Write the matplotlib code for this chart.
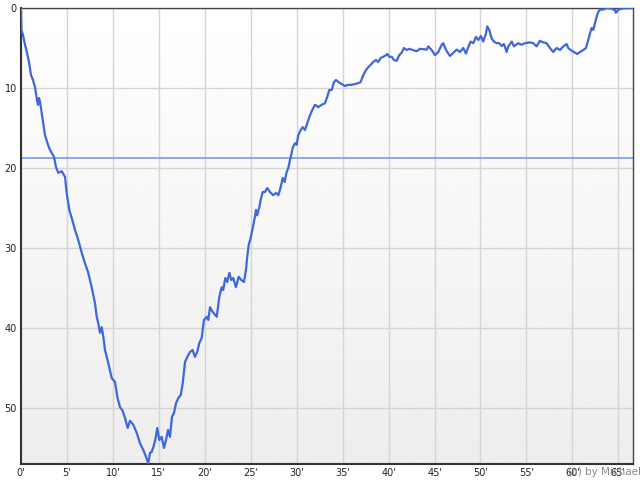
import numpy as np
import matplotlib
matplotlib.use("Agg")
import matplotlib.pyplot as plt

# time in minutes
minutes = [0.00, 0.05, 0.22, 0.44, 0.65, 0.87, 1.09, 1.31, 1.52, 1.74, 1.85, 1.96, 2.07, 2.29, 2.61,
           2.94, 3.16, 3.59, 3.81, 4.06, 4.43, 4.79, 4.97, 5.26, 5.58, 5.88, 6.23, 6.61, 6.96, 7.32,
           7.69, 8.05, 8.24, 8.41, 8.60, 8.78, 8.96, 9.14, 9.50, 9.87, 10.23, 10.48, 10.77, 11.02,
           11.32, 11.61, 11.86, 12.22, 12.59, 12.95, 13.31, 13.60, 13.85, 14.04, 14.22, 14.40, 14.61,
           14.83, 15.05, 15.31, 15.56, 15.78, 16.00, 16.21, 16.43, 16.65, 16.87, 17.12, 17.38, 17.60,
           17.85, 18.10, 18.39, 18.68, 18.93, 19.18, 19.40, 19.66, 19.91, 20.21, 20.38, 20.57, 20.86,
           21.30, 21.58, 21.84, 22.01, 22.23, 22.45, 22.67, 22.88, 23.10, 23.39, 23.69, 23.97, 24.27,
           24.48, 24.62, 24.78, 24.99, 25.21, 25.46, 25.57, 25.71, 25.93, 26.08, 26.30, 26.55, 26.80,
           27.09, 27.45, 27.75, 28.00, 28.26, 28.48, 28.69, 28.91, 29.09, 29.27, 29.46, 29.56, 29.82,
           30.00, 30.17, 30.44, 30.65, 30.90, 31.15, 31.45, 31.70, 31.99, 32.35, 32.72, 33.08, 33.33,
           33.55, 33.81, 34.06, 34.28, 34.53, 34.90, 35.26, 35.61, 35.98, 36.34, 36.70, 36.96, 37.25,
           37.54, 37.79, 38.05, 38.33, 38.63, 38.88, 39.14, 39.42, 39.72, 39.86, 40.08, 40.34, 40.59,
           40.88, 41.16, 41.42, 41.68, 41.97, 42.25, 42.62, 43.06, 43.42, 44.15, 44.32, 44.69, 45.05,
           45.41, 45.78, 45.95, 46.25, 46.68, 47.04, 47.41, 47.77, 48.13, 48.42, 48.67, 48.93, 49.22,
           49.51, 49.76, 50.05, 50.30, 50.60, 50.74, 50.96, 51.22, 51.47, 51.76, 52.05, 52.31, 52.56,
           52.85, 53.03, 53.40, 53.65, 54.11, 54.48, 54.84, 55.39, 55.75, 56.11, 56.47, 56.83, 57.20,
           57.56, 57.92, 58.29, 58.65, 59.01, 59.38, 59.55, 59.81, 60.17, 60.53, 60.83, 61.19, 61.48,
           61.73, 61.91, 62.10, 62.27, 62.46, 62.64, 62.82, 63.00, 63.36, 63.73, 64.27, 64.64, 64.74,
           65.00, 65.54, 66.60]
values = [0.0, 2.75, 3.4, 4.6, 5.6, 6.75, 8.4, 9.0, 9.9, 11.5, 12.1, 11.25, 11.75, 13.4, 15.9,
          17.1, 17.75, 18.6, 19.9, 20.6, 20.4, 21.1, 23.1, 25.25, 26.5, 27.75, 29.0, 30.6, 31.9, 33.1,
          34.9, 36.9, 38.6, 39.4, 40.6, 39.9, 41.1, 42.75, 44.4, 46.25, 46.75, 48.6, 49.9, 50.25,
          51.25, 52.5, 51.6, 52.1, 53.1, 54.4, 55.25, 56.1, 56.9, 55.6, 55.5, 54.9, 54.0,
          52.5, 54.0, 53.6, 55.0, 54.0, 52.75, 53.6, 51.1, 50.6, 49.4, 48.75, 48.4, 46.9,
          44.25, 43.6, 43.0, 42.75, 43.6, 43.0, 41.9, 41.25, 39.0, 38.6, 39.0, 37.4, 38.0,
          38.6, 36.1, 34.9, 35.25, 33.75, 34.25, 33.1, 34.0, 33.75, 34.9, 33.6, 34.0, 34.25,
          32.75, 31.1, 29.6, 28.75, 27.5, 26.1, 25.25, 25.9, 24.9, 24.0, 23.0, 23.0, 22.5,
          23.0, 23.4, 23.1, 23.4, 22.4, 21.25, 21.75, 20.5, 20.0, 19.0, 18.1, 17.5, 16.9,
          17.1, 15.9, 15.25, 14.9, 15.25, 14.4, 13.4, 12.75, 12.1, 12.4, 12.1, 11.9, 11.1,
          10.25, 10.25, 9.25, 9.0, 9.25, 9.5, 9.75, 9.6, 9.6, 9.5, 9.4, 9.25, 8.4,
          7.75, 7.4, 7.1, 6.75, 6.5, 6.75, 6.25, 6.1, 5.9, 5.75, 6.1, 6.1, 6.5,
          6.6, 5.9, 5.6, 5.0, 5.25, 5.1, 5.25, 5.4, 5.1, 5.2, 4.8, 5.25, 5.9,
          5.5, 4.6, 4.4, 5.25, 6.0, 5.6, 5.2, 5.5, 5.0, 5.7, 4.9, 4.2, 4.4,
          3.6, 4.0, 3.5, 4.2, 3.2, 2.3, 2.75, 3.8, 4.2, 4.4, 4.4, 4.75, 4.5,
          5.5, 4.8, 4.2, 4.8, 4.4, 4.6, 4.4, 4.3, 4.4, 4.8, 4.1, 4.3, 4.4,
          5.0, 5.5, 5.0, 5.25, 4.8, 4.5, 5.0, 5.25, 5.5, 5.75, 5.5, 5.25, 5.0,
          4.0, 3.2, 2.5, 2.75, 1.9, 1.1, 0.5, 0.2, 0.2, 0.0, 0.1, 0.25, 0.6,
          0.2, 0.05, 0.0]

avg_level = 18.7
x_ticks = list(range(0, 70, 5))
x_labels = [f"{t}'" for t in x_ticks]
y_ticks = [0, 10, 20, 30, 40, 50]

fig = plt.figure(figsize=(6.4, 4.8), dpi=100)
ax = fig.add_axes([21 / 640, 16 / 480, 612 / 640, 456 / 480])

# light gradient background, white on top to light grey at the bottom
grad = np.linspace(1.0, 0.93, 256).reshape(-1, 1)
ax.imshow(grad, cmap="gray", vmin=0, vmax=1, aspect="auto",
          extent=[0, 1, 0, 1], transform=ax.transAxes, zorder=0)

ax.set_xlim(0, 66.6)
ax.set_ylim(57, 0)

ax.set_xticks(x_ticks)
ax.set_xticklabels(x_labels)
ax.set_yticks(y_ticks)
ax.tick_params(length=0, labelsize=7, colors="#222222", pad=3)
ax.grid(True, color="#d4d4d4", linewidth=1)
ax.set_axisbelow(True)

for side in ["left", "bottom"]:
    ax.spines[side].set_color("#333333")
    ax.spines[side].set_linewidth(1.5)
for side in ["top", "right"]:
    ax.spines[side].set_color("#444444")
    ax.spines[side].set_linewidth(1.0)

ax.axhline(avg_level, color="#7a9be6", linewidth=1.2, zorder=2)
ax.plot(minutes, values, color="#3f66dd", linewidth=1.6, zorder=3)

fig.text(0.888, 0.006, "(c) by Michael", fontsize=7.5, color="#8a8a8a", ha="left", va="bottom")

fig.savefig("out.png", dpi=100)
